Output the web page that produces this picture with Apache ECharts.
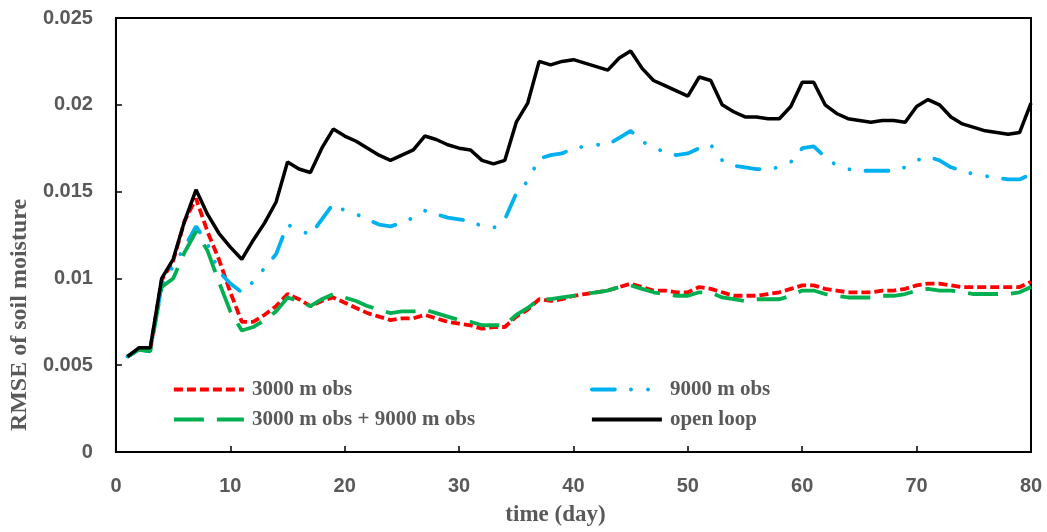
<!DOCTYPE html>
<html>
<head>
<meta charset="utf-8">
<script src="https://cdn.jsdelivr.net/npm/echarts@6/dist/echarts.min.js"></script>
<style>
html,body{margin:0;padding:0;background:#fff;}
#chart{width:1047px;height:532px;}
</style>
</head>
<body>
<div id="chart"></div>
<script>
const days = Array.from({length: 80}, (_, i) => i + 1);
const obs3000 = [0.0055,0.0059,0.0059,0.0099,0.0110,0.0133,0.0146,0.0127,0.0111,0.0092,
0.0075,0.0075,0.0079,0.0084,0.0091,0.0088,0.0084,0.0087,0.0089,0.0086,
0.0083,0.0080,0.0078,0.0076,0.0077,0.0077,0.0079,0.0077,0.0075,0.0074,
0.0073,0.0071,0.0072,0.0072,0.0078,0.0082,0.0088,0.0087,0.0088,0.0090,
0.0091,0.0092,0.0093,0.0095,0.0097,0.0095,0.0093,0.0093,0.0092,0.0092,
0.0095,0.0094,0.0092,0.0090,0.0090,0.0090,0.0091,0.0092,0.0094,0.0096,
0.0096,0.0094,0.0093,0.0092,0.0092,0.0092,0.0093,0.0093,0.0094,0.0096,
0.0097,0.0097,0.0096,0.0095,0.0095,0.0095,0.0095,0.0095,0.0095,0.0098];
const obs9000 = [0.0055,0.0059,0.0058,0.0096,0.0107,0.0118,0.0130,0.0120,0.0104,0.0097,
0.0092,0.0098,0.0106,0.0114,0.0131,0.0128,0.0125,0.0134,0.0143,0.0139,
0.0137,0.0134,0.0131,0.0130,0.0132,0.0135,0.0139,0.0137,0.0135,0.0134,
0.0133,0.0130,0.0129,0.0134,0.0149,0.0156,0.0169,0.0171,0.0172,0.0175,
0.0176,0.0177,0.0177,0.0181,0.0185,0.0179,0.0175,0.0173,0.0171,0.0172,
0.0175,0.0177,0.0168,0.0165,0.0164,0.0163,0.0163,0.0164,0.0167,0.0175,
0.0176,0.0170,0.0165,0.0163,0.0162,0.0162,0.0162,0.0162,0.0164,0.0168,
0.0170,0.0168,0.0164,0.0162,0.0160,0.0159,0.0158,0.0157,0.0157,0.0160];
const obsBoth = [0.0055,0.0059,0.0058,0.0095,0.0100,0.0115,0.0127,0.0116,0.0098,0.0081,
0.0070,0.0072,0.0076,0.0081,0.0089,0.0087,0.0084,0.0088,0.0091,0.0089,
0.0087,0.0084,0.0082,0.0080,0.0081,0.0081,0.0082,0.0080,0.0078,0.0076,
0.0075,0.0073,0.0073,0.0073,0.0079,0.0083,0.0088,0.0088,0.0089,0.0090,
0.0091,0.0092,0.0093,0.0095,0.0096,0.0094,0.0092,0.0091,0.0090,0.0090,
0.0092,0.0092,0.0089,0.0088,0.0087,0.0088,0.0088,0.0088,0.0090,0.0093,
0.0093,0.0091,0.0090,0.0089,0.0089,0.0089,0.0090,0.0090,0.0091,0.0093,
0.0094,0.0093,0.0093,0.0092,0.0091,0.0091,0.0091,0.0091,0.0092,0.0095];
const openLoop = [0.0055,0.0060,0.0060,0.0100,0.0111,0.0133,0.0151,0.0137,0.0126,0.0118,
0.0111,0.0122,0.0132,0.0144,0.0167,0.0163,0.0161,0.0175,0.0186,0.0182,
0.0179,0.0175,0.0171,0.0168,0.0171,0.0174,0.0182,0.0180,0.0177,0.0175,
0.0174,0.0168,0.0166,0.0168,0.0190,0.0201,0.0225,0.0223,0.0225,0.0226,
0.0224,0.0222,0.0220,0.0227,0.0231,0.0221,0.0214,0.0211,0.0208,0.0205,
0.0216,0.0214,0.0200,0.0196,0.0193,0.0193,0.0192,0.0192,0.0199,0.0213,
0.0213,0.0200,0.0195,0.0192,0.0191,0.0190,0.0191,0.0191,0.0190,0.0199,
0.0203,0.0200,0.0193,0.0189,0.0187,0.0185,0.0184,0.0183,0.0184,0.0201];
const seriesNames = ['3000 m obs', '9000 m obs', '3000 m obs + 9000 m obs', 'open loop'];

const pair = arr => days.map((d, i) => [d, arr[i]]);
const labelFont = {color: '#595959', fontWeight: 'bold', fontSize: 20, fontFamily: 'Liberation Sans, Arial, sans-serif'};
const serif = 'Liberation Serif, Times New Roman, serif';
const legendText = {color: '#595959', fontWeight: 'bold', fontSize: 21, fontFamily: serif, padding: [0, 0, 0, 3]};
const legendCommon = {top: 374, orient: 'vertical', itemWidth: 70, itemHeight: 14, itemGap: 9,
  itemStyle: {opacity: 0}, lineStyle: {width: 3.8}, textStyle: legendText};

const chart = echarts.init(document.getElementById('chart'), null, {renderer: 'canvas'});
chart.setOption({
  animation: false,
  backgroundColor: '#fff',
  grid: {left: 112, right: 16, top: 18, bottom: 79, show: true, borderColor: '#000', borderWidth: 2, containLabel: false},
  legend: [
    Object.assign({data: [seriesNames[0], seriesNames[2]], left: 167}, legendCommon),
    Object.assign({data: [seriesNames[1], seriesNames[3]], left: 585}, legendCommon)
  ],
  xAxis: {
    type: 'value', min: 0, max: 80, interval: 10,
    name: 'time (day)', nameLocation: 'middle', nameGap: 52,
    nameTextStyle: {color: '#595959', fontWeight: 'bold', fontSize: 23, fontFamily: serif, padding: [0, 36, 0, 0]},
    axisLine: {show: true, lineStyle: {color: '#000', width: 2}},
    axisTick: {show: true, inside: true, length: 6, lineStyle: {color: '#000', width: 1.5}},
    axisLabel: Object.assign({margin: 24}, labelFont),
    splitLine: {show: false}
  },
  yAxis: {
    type: 'value', min: 0, max: 0.025, interval: 0.005,
    name: 'RMSE of soil moisture', nameLocation: 'middle', nameGap: 82,
    nameTextStyle: {color: '#595959', fontWeight: 'bold', fontSize: 24, fontFamily: serif, padding: [0, 160, 0, 0]},
    axisLine: {show: true, lineStyle: {color: '#000', width: 2}},
    axisTick: {show: true, inside: true, length: 6, lineStyle: {color: '#000', width: 1.5}},
    axisLabel: Object.assign({margin: 23}, labelFont),
    splitLine: {show: false}
  },
  series: [
    {name: seriesNames[0], type: 'line', data: pair(obs3000), symbol: 'none', color: '#FF0000',
     lineStyle: {color: '#FF0000', width: 3.8, type: [9, 4]}},
    {name: seriesNames[1], type: 'line', data: pair(obs9000), symbol: 'none', color: '#00B0F0',
     lineStyle: {color: '#00B0F0', width: 3.8, type: [23, 16, 0.1, 17, 0.1, 16], cap: 'round'}},
    {name: seriesNames[2], type: 'line', data: pair(obsBoth), symbol: 'none', color: '#00B050',
     lineStyle: {color: '#00B050', width: 3.8, type: [30, 13]}},
    {name: seriesNames[3], type: 'line', data: pair(openLoop), symbol: 'none', color: '#000000',
     lineStyle: {color: '#000000', width: 3.5}}
  ]
});
</script>
</body>
</html>
